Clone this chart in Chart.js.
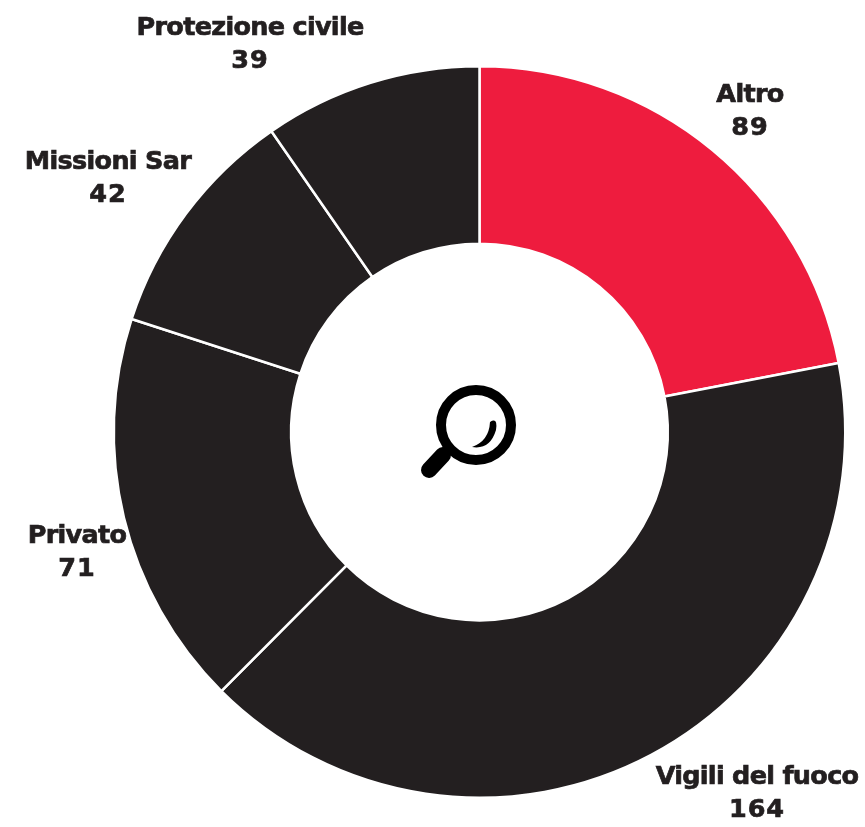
<!DOCTYPE html>
<html><head><meta charset="utf-8">
<style>html,body{margin:0;padding:0;background:#fff}#w{position:relative;width:865px;height:827px}</style>
<script src="https://cdn.jsdelivr.net/npm/chart.js@4"></script></head>
<body><div id="w"><canvas id="c" width="865" height="827"></canvas></div>
<script>
const categories = ["Altro","Vigili del fuoco","Privato","Missioni Sar","Protezione civile"];
const values = [89,164,71,42,39];
const colors = ["#ee1c3e","#231f20","#231f20","#231f20","#231f20"];
const labelAnchors = [[750,95],[757,777],[77,536],[108,162],[250,28]];

const labelPlugin = {
  id:"outerLabels",
  afterDraw(chart){
    const g = chart.ctx;
    g.save();
    g.fillStyle = "#231f20";
    g.strokeStyle = "#231f20";
    g.lineWidth = 0.7;
    g.textAlign = "center";
    g.textBaseline = "middle";
    g.font = "bold 25.5px 'DejaVu Sans'";
    categories.forEach((name,i)=>{
      const [x,y] = labelAnchors[i];
      g.letterSpacing = "-0.7px";
      g.fillText(name,x,y);
      g.strokeText(name,x,y);
      g.letterSpacing = "1px";
      g.fillText(String(values[i]),x,y+33);
      g.strokeText(String(values[i]),x,y+33);
    });
    g.restore();
  }
};
const iconPlugin = {
  id:"lens",
  afterDraw(chart){
    const g = chart.ctx;
    g.save();
    g.strokeStyle = "#000";
    g.lineWidth = 10;
    g.beginPath(); g.arc(476,425,35,0,Math.PI*2); g.stroke();
    g.lineCap = "round";
    g.lineWidth = 16;
    g.beginPath(); g.moveTo(443,455); g.lineTo(429,470); g.stroke();
    g.fillStyle = "#000";
    g.beginPath();
    g.moveTo(472,447);
    g.quadraticCurveTo(489,441,490,422);
    g.quadraticCurveTo(498,417,496,430);
    g.quadraticCurveTo(490,450,472,447);
    g.fill();
    g.restore();
  }
};
new Chart(document.getElementById("c"),{
  type:"doughnut",
  data:{labels:categories,datasets:[{data:values,backgroundColor:colors,borderColor:"#fff",borderWidth:2.5,borderAlign:"center"}]},
  options:{
    responsive:false,animation:false,cutout:"51.5%",
    layout:{padding:{left:112,right:18,top:65,bottom:28}},
    plugins:{legend:{display:false},tooltip:{enabled:false}}
  },
  plugins:[labelPlugin,iconPlugin]
});
</script></body></html>
